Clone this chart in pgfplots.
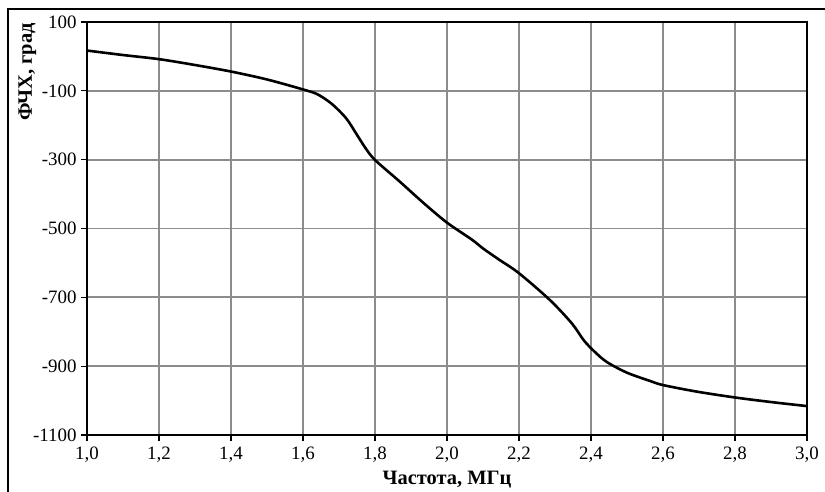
\documentclass[border=0pt]{standalone}
\usepackage{pgfplots}
\pgfplotsset{compat=1.18}
\usepackage{fontspec}
\setmainfont{Liberation Serif}
\newcommand{\tl}[1]{\fontsize{19}{21}\selectfont #1}
\begin{document}
\begin{tikzpicture}[x=1bp,y=1bp]
\path[use as bounding box] (0,0) rectangle (825,492);
\draw[line width=1.2bp,black] (8,0) -- (8,483) -- (825,483);
\begin{axis}[
  at={(87bp,57bp)}, anchor=south west,
  scale only axis, width=720bp, height=413bp,
  xmin=1, xmax=3, ymin=-1100, ymax=100,
  xtick={1,1.2,...,3.01}, ytick={-1100,-900,...,100},
  xticklabels={\tl{1,0},\tl{1,2},\tl{1,4},\tl{1,6},\tl{1,8},\tl{2,0},\tl{2,2},\tl{2,4},\tl{2,6},\tl{2,8},\tl{3,0}},
  yticklabels={\tl{-1100},\tl{-900},\tl{-700},\tl{-500},\tl{-300},\tl{-100},\tl{100}},
  tick pos=left, tick align=outside, major tick length=6bp,
  every tick/.style={black, line width=1.2bp},
  grid=major, major grid style={line width=1.8bp, color=black!45},
  axis line style={line width=2bp, black},
  xlabel={\textbf{Частота, МГц}}, ylabel={\textbf{ФЧХ, град}},
  label style={font=\fontsize{20.5}{22}\selectfont},
  xlabel style={at={(axis description cs:0.5,-0.109)}, anchor=center},
  ylabel style={at={(axis description cs:-0.083,0.879)}, anchor=center},
  yticklabel style={xshift=-1bp},
  xticklabel style={yshift=-2bp},
]
\addplot[black, line width=2.6bp, smooth, tension=0.5] coordinates {
(1.0,17) (1.1,4) (1.2,-8) (1.3,-25) (1.4,-44) (1.5,-67) (1.6,-96) (1.64,-110)
(1.68,-138) (1.72,-180) (1.75,-228) (1.774,-267) (1.8,-301) (1.869,-364) (1.936,-427)
(2.0,-483) (2.07,-533) (2.1,-558) (2.144,-590) (2.2,-630) (2.286,-708)
(2.347,-776) (2.38,-825) (2.41,-858) (2.444,-888) (2.5,-919) (2.564,-943)
(2.6,-955) (2.694,-974) (2.8,-991) (2.906,-1005) (3.0,-1016)
};
\end{axis}
\end{tikzpicture}
\end{document}
